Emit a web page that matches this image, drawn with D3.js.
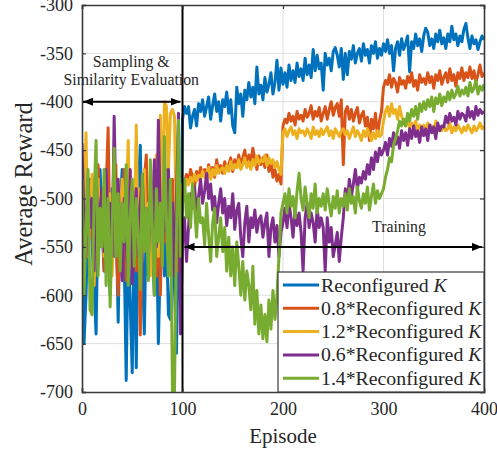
<!DOCTYPE html>
<html>
<head>
<meta charset="utf-8">
<script src="https://cdn.jsdelivr.net/npm/d3@7"></script>
<style>
  html, body { margin: 0; padding: 0; background: #fff; }
  svg { display: block; font-family: "Liberation Serif", "Times New Roman", serif; }
</style>
</head>
<body>
<svg id="chart" width="497" height="454"></svg>
<script>
// ---- data -------------------------------------------------------------
const seriesNames = ["Reconfigured", "0.8*Reconfigured", "1.2*Reconfigured", "0.6*Reconfigured", "1.4*Reconfigured"];
const seriesColors = ["#0072BD", "#D95319", "#EDB120", "#7E2F8E", "#77AC30"];
const xTickValues = [0, 100, 200, 300, 400];
const yTickValues = [-700, -650, -600, -550, -500, -450, -400, -350, -300];

// episodes sampled every 2 steps, 0..400
const episodes = d3.range(0, 401, 2);

const rewardK = [
  -560, -650, -600, -520, -480, -545, -590, -640, -510, -470,
  -530, -575, -500, -545, -600, -490, -560, -520, -628, -505,
  -470, -560, -688, -540, -610, -680, -525, -675, -490, -445,
  -560, -640, -515, -580, -500, -545, -600, -520, -650, -560,
  -495, -580, -530, -620, -625, -540, -590, -660, -520, -610,
  -418, -405, -412, -405, -427, -415, -408, -425, -402, -410,
  -398, -415, -405, -395, -418, -404, -392, -410, -400, -420,
  -398, -405, -390, -412, -398, -425, -432, -385, -402, -392,
  -415, -388, -398, -380, -395, -385, -402, -364, -392, -383,
  -398, -375, -390, -382, -370, -392, -380, -357, -388, -365,
  -382, -370, -385, -362, -378, -368, -380, -360, -374, -366,
  -378, -355, -372, -362, -375, -346, -368, -352, -366, -360,
  -388, -350, -362, -355, -368, -348, -344, -352, -364, -345,
  -377, -350, -372, -348, -356, -342, -360, -350, -345, -358,
  -340, -352, -346, -360, -342, -350, -338, -355, -345, -352,
  -340, -348, -336, -350, -342, -368, -345, -338, -352, -335,
  -346, -340, -332, -369, -338, -345, -330, -342, -335, -348,
  -332, -324, -328, -342, -335, -345, -330, -338, -326, -340,
  -334, -345, -330, -338, -322, -336, -330, -342, -332, -338,
  -325, -319, -334, -345, -332, -340, -336, -346, -338, -332,
  -336
];

const rewardK08 = [
  -520, -470, -560, -500, -540, -480, -590, -515, -465, -550,
  -505, -575, -490, -427, -560, -520, -480, -545, -600, -500,
  -540, -470, -585, -510, -555, -490, -530, -575, -505, -641,
  -520, -480, -455, -560, -500, -545, -470, -580, -510, -600,
  -490, -545, -470, -520, -560, -480, -530, -505, -575, -490,
  -490, -482, -475, -485, -470, -478, -488, -472, -480, -468,
  -476, -470, -482, -465, -475, -468, -478, -460, -472, -466,
  -474, -462, -470, -465, -458, -472, -460, -468, -455, -465,
  -458, -450, -466, -455, -462, -448, -460, -470, -456, -465,
  -458, -468, -455, -472, -462, -478, -470, -482, -475, -485,
  -425, -418, -422, -412, -420, -415, -424, -410, -418, -414,
  -420, -408, -416, -412, -404, -418, -410, -415, -406, -420,
  -412, -405, -418, -408, -400, -414, -406, -402, -415, -398,
  -465, -410, -405, -418, -408, -420, -412, -406, -422, -414,
  -410, -425, -416, -440, -418, -428, -412, -435, -420, -410,
  -385, -378, -382, -372, -385, -376, -380, -390, -375, -382,
  -378, -386, -374, -380, -370, -384, -378, -388, -372, -380,
  -376, -382, -370, -380, -374, -386, -372, -378, -368, -382,
  -375, -370, -380, -366, -378, -372, -384, -370, -376, -365,
  -378, -370, -375, -364, -376, -368, -380, -372, -362, -374,
  -370
];

const rewardK12 = [
  -540, -500, -432, -560, -510, -475, -590, -520, -480, -545,
  -500, -560, -470, -530, -495, -580, -510, -465, -550, -520,
  -480, -540, -505, -440, -570, -500, -535, -424, -560, -490,
  -530, -470, -545, -505, -580, -490, -520, -455, -560, -414,
  -520, -400, -405, -470, -412, -408, -415, -540, -500, -560,
  -485, -490, -480, -486, -478, -484, -475, -482, -476, -480,
  -472, -478, -474, -468, -480, -470, -476, -466, -474, -470,
  -468, -474, -466, -472, -462, -470, -465, -468, -460, -470,
  -465, -458, -468, -462, -470, -460, -466, -456, -464, -460,
  -462, -455, -466, -458, -464, -460, -468, -462, -470, -475,
  -432, -428, -436, -430, -426, -434, -430, -438, -428, -432,
  -430, -435, -428, -432, -438, -426, -434, -430, -436, -428,
  -434, -430, -426, -435, -430, -438, -428, -432, -436, -430,
  -428, -434, -430, -438, -432, -426, -436, -430, -434, -440,
  -430, -436, -428, -434, -440, -432, -438, -430, -436, -434,
  -420, -410, -405, -415, -402, -412, -408, -418, -405, -415,
  -420, -425, -418, -428, -422, -426, -420, -430, -424, -428,
  -424, -430, -422, -428, -425, -432, -420, -428, -426, -430,
  -425, -430, -428, -422, -432, -426, -430, -424, -428, -432,
  -426, -430, -424, -428, -432, -425, -430, -427, -422, -428,
  -425
];

const rewardK06 = [
  -443, -520, -560, -480, -530, -500, -575, -465, -540, -510,
  -490, -555, -470, -530, -505, -560, -415, -520, -480, -550,
  -585, -500, -545, -580, -470, -588, -520, -490, -560, -505,
  -475, -540, -510, -565, -495, -530, -460, -550, -419, -520,
  -560, -490, -535, -470, -545, -505, -580, -500, -412, -640,
  -545, -520, -565, -530, -495, -510, -488, -515, -498, -480,
  -505, -492, -474, -500, -485, -512, -498, -525, -505, -490,
  -515, -500, -528, -508, -520, -495, -532, -512, -505, -540,
  -560, -525, -508, -545, -520, -530, -512, -535, -522, -518,
  -540, -525, -515, -560, -530, -520, -545, -528, -560, -535,
  -525, -510, -530, -505, -520, -540, -512, -528, -515, -535,
  -575, -520, -505, -530, -515, -525, -545, -510, -530, -520,
  -530, -575, -520, -545, -530, -560, -548, -535, -565, -540,
  -520, -490, -505, -480, -498, -485, -470, -490, -478, -484,
  -472, -480, -465, -475, -458, -470, -452, -462, -448, -455,
  -450, -442, -455, -438, -446, -432, -444, -436, -448, -430,
  -440, -432, -445, -428, -438, -425, -436, -430, -442, -426,
  -435, -428, -440, -424, -432, -426, -438, -422, -430, -425,
  -426, -415, -422, -412, -420, -416, -424, -410, -418, -412,
  -414, -420, -406, -416, -410, -418, -405, -414, -408, -412,
  -410
];

const rewardK14 = [
  -480, -600, -530, -470, -615, -620, -500, -440, -580, -510,
  -550, -470, -590, -500, -612, -530, -448, -560, -495, -575,
  -505, -545, -465, -590, -520, -480, -570, -500, -540, -594,
  -475, -555, -510, -585, -460, -530, -600, -490, -545, -505,
  -570, -436, -520, -580, -480, -700, -700, -540, -419, -560,
  -505, -480, -520, -495, -530, -485, -510, -540, -500, -525,
  -520, -548, -505, -538, -565, -525, -510, -560, -540, -520,
  -555, -530, -575, -540, -580, -550, -590, -545, -570, -600,
  -565, -605, -575, -590, -615, -570, -630, -595, -640, -610,
  -645, -620, -648, -605, -635, -595, -625, -600, -560, -515,
  -505, -495, -515, -490, -508, -498, -520, -492, -474, -500,
  -512, -488, -505, -520, -495, -510, -485, -515, -500, -508,
  -495, -512, -490, -505, -518, -498, -510, -492, -515, -500,
  -508, -495, -512, -490, -505, -498, -515, -488, -502, -510,
  -495, -505, -488, -512, -498, -485, -505, -492, -500, -495,
  -490, -478, -470, -458, -462, -445, -438, -430, -420, -425,
  -418, -425, -412, -420, -408, -415, -405, -418, -402, -410,
  -400, -408, -398, -405, -395, -410, -396, -402, -392, -404,
  -395, -400, -390, -398, -388, -396, -392, -384, -394, -388,
  -392, -385, -394, -380, -390, -386, -378, -392, -384, -388,
  -382
];

const seriesValues = [rewardK, rewardK08, rewardK12, rewardK06, rewardK14];

// ---- layout -----------------------------------------------------------
const svg = d3.select("#chart");
const plot = { left: 82, right: 484, top: 5, bottom: 392 };
const frameColor = "#3a3a3a";

const x = d3.scaleLinear().domain([0, 400]).range([plot.left, plot.right]);
const y = d3.scaleLinear().domain([-700, -300]).range([plot.bottom, plot.top]);

// grid
const grid = svg.append("g").attr("stroke", "#dedede").attr("stroke-width", 1);
grid.selectAll("line.gy").data(yTickValues.slice(1, -1)).join("line")
  .attr("x1", plot.left).attr("x2", plot.right)
  .attr("y1", d => y(d)).attr("y2", d => y(d));
grid.selectAll("line.gx").data(xTickValues.slice(1, -1)).join("line")
  .attr("x1", d => x(d)).attr("x2", d => x(d))
  .attr("y1", plot.top).attr("y2", plot.bottom);

// clip for the data
svg.append("clipPath").attr("id", "plotClip").append("rect")
  .attr("x", plot.left).attr("y", plot.top)
  .attr("width", plot.right - plot.left).attr("height", plot.bottom - plot.top);

const line = d3.line()
  .x((d, i) => x(episodes[i]))
  .y(d => y(d));

const lines = svg.append("g").attr("clip-path", "url(#plotClip)");
seriesValues.forEach((vals, k) => {
  lines.append("path")
    .datum(vals)
    .attr("fill", "none")
    .attr("stroke", seriesColors[k])
    .attr("stroke-width", 3)
    .attr("stroke-linejoin", "round")
    .attr("d", line);
});

// phase divider at episode 100
svg.append("line")
  .attr("x1", x(100)).attr("x2", x(100))
  .attr("y1", plot.top).attr("y2", plot.bottom)
  .attr("stroke", "#000").attr("stroke-width", 2);

// axes (bottom/left with labels, top/right mirrored, ticks inward)
const fontTick = 18;
const xAxis = d3.axisBottom(x).tickValues(xTickValues).tickSize(-4).tickPadding(10).tickFormat(d3.format("d"));
const yAxis = d3.axisLeft(y).tickValues(yTickValues).tickSize(-4).tickPadding(9).tickFormat(d => d3.format("d")(d).replace("−", "-"));
const xTop = d3.axisTop(x).tickValues(xTickValues).tickSize(-4).tickFormat("");
const yRight = d3.axisRight(y).tickValues(yTickValues).tickSize(-4).tickFormat("");

function styleAxis(g) {
  g.select(".domain").attr("stroke", frameColor).attr("stroke-width", 1.6);
  g.selectAll(".tick line").attr("stroke", frameColor).attr("stroke-width", 1.2);
  g.selectAll(".tick text").attr("fill", "#262626")
    .style("font-family", '"Liberation Serif", "Times New Roman", serif')
    .style("font-size", fontTick + "px");
}
svg.append("g").attr("transform", `translate(0,${plot.bottom})`).call(xAxis).call(styleAxis);
svg.append("g").attr("transform", `translate(${plot.left},0)`).call(yAxis).call(styleAxis);
svg.append("g").attr("transform", `translate(0,${plot.top})`).call(xTop).call(styleAxis);
svg.append("g").attr("transform", `translate(${plot.right},0)`).call(yRight).call(styleAxis);

// axis titles
svg.append("text")
  .attr("x", (plot.left + plot.right) / 2).attr("y", 443)
  .attr("text-anchor", "middle").attr("fill", "#262626")
  .style("font-size", "21px").text("Episode");
svg.append("text")
  .attr("transform", `translate(32,184) rotate(-90)`)
  .attr("text-anchor", "middle").attr("fill", "#262626")
  .style("font-size", "24.5px").text("Average Reward");

// arrow markers
const defs = svg.append("defs");
defs.append("marker").attr("id", "arrowHead")
  .attr("viewBox", "0 0 10 8").attr("refX", 10).attr("refY", 4)
  .attr("markerWidth", 10).attr("markerHeight", 8).attr("markerUnits", "userSpaceOnUse")
  .attr("orient", "auto-start-reverse")
  .append("path").attr("d", "M0,0L10,4L0,8Z").attr("fill", "#000");

// sampling phase annotation
svg.append("line")
  .attr("x1", x(0) + 1).attr("x2", x(100) - 2)
  .attr("y1", y(-400)).attr("y2", y(-400))
  .attr("stroke", "#000").attr("stroke-width", 2)
  .attr("marker-start", "url(#arrowHead)").attr("marker-end", "url(#arrowHead)");
const sampText = svg.append("text").attr("text-anchor", "middle").attr("fill", "#262626")
  .style("font-size", "15.8px");
sampText.append("tspan").attr("x", x(50) - 1).attr("y", 67).text("Sampling &");
sampText.append("tspan").attr("x", x(50) - 1).attr("y", 85).text("Similarity Evaluation");

// training phase annotation
svg.append("line")
  .attr("x1", x(100) + 2).attr("x2", x(400) - 2)
  .attr("y1", y(-550)).attr("y2", y(-550))
  .attr("stroke", "#000").attr("stroke-width", 2)
  .attr("marker-start", "url(#arrowHead)").attr("marker-end", "url(#arrowHead)");
svg.append("text").attr("x", 399).attr("y", 232)
  .attr("text-anchor", "middle").attr("fill", "#262626")
  .style("font-size", "15.8px").text("Training");

// legend
const legend = svg.append("g");
const lg = { x0: 278, y0: 272, x1: plot.right, y1: plot.bottom };
legend.append("rect")
  .attr("x", lg.x0).attr("y", lg.y0)
  .attr("width", lg.x1 - lg.x0).attr("height", lg.y1 - lg.y0)
  .attr("fill", "#fff").attr("stroke", frameColor).attr("stroke-width", 1.2);
seriesNames.forEach((name, k) => {
  const ry = 285 + k * 23.3;
  legend.append("line")
    .attr("x1", 283).attr("x2", 319).attr("y1", ry).attr("y2", ry)
    .attr("stroke", seriesColors[k]).attr("stroke-width", 3);
  const t = legend.append("text").attr("x", 321).attr("y", ry + 6.5)
    .attr("fill", "#262626").style("font-size", "19.8px");
  t.append("tspan").text(name + " ");
  t.append("tspan").style("font-style", "italic").text("K");
});
</script>
</body>
</html>
